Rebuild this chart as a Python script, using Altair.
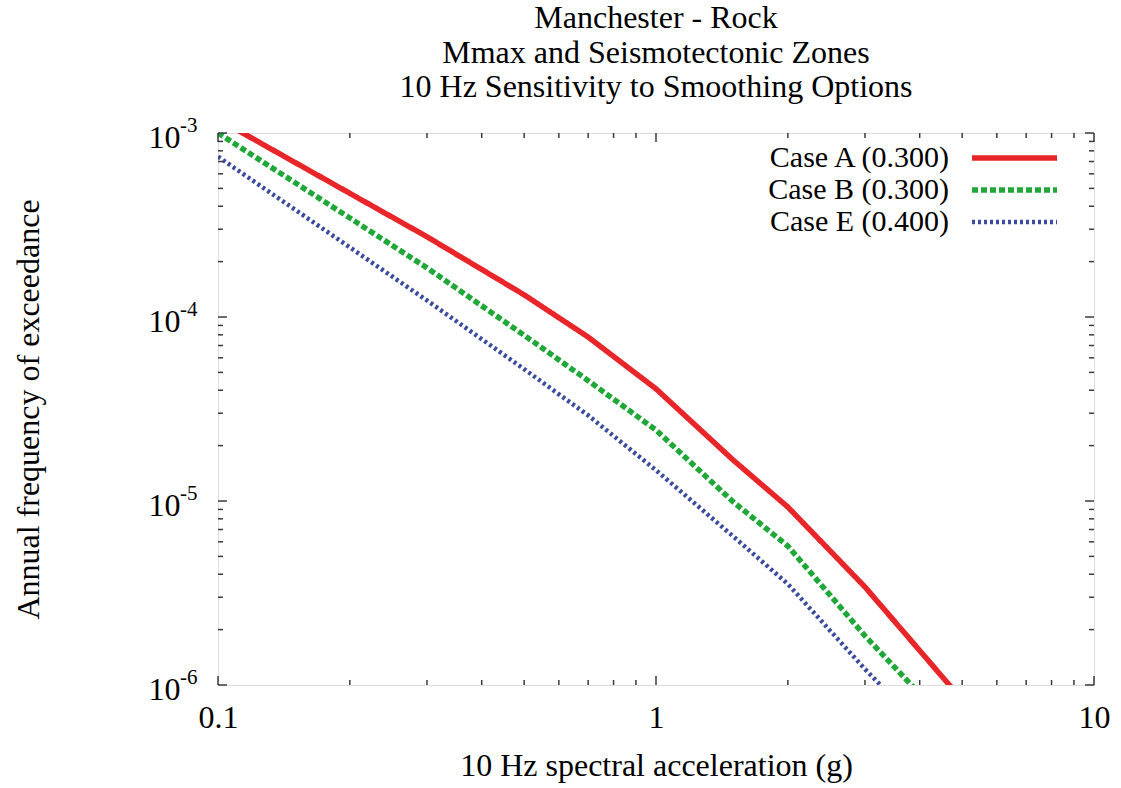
import altair as alt
import pandas as pd

# ---- data ----
accel = [0.1, 0.2, 0.3, 0.5, 0.7, 1.0, 1.5, 2.0, 3.0, 5.0]
case_a = [1.19e-3, 4.7e-4, 2.73e-4, 1.32e-4, 7.78e-5, 4.07e-5, 1.67e-5, 9.27e-6, 3.41e-6, 8.3e-7]
case_b = [1.0e-3, 3.45e-4, 1.85e-4, 7.96e-5, 4.51e-5, 2.43e-5, 9.9e-6, 5.69e-6, 1.85e-6, 5.1e-7]
case_e = [7.44e-4, 2.39e-4, 1.23e-4, 5.21e-5, 2.92e-5, 1.47e-5, 6.43e-6, 3.54e-6, 1.22e-6, 3.5e-7]

cases = ["Case A (0.300)", "Case B (0.300)", "Case E (0.400)"]
series = [case_a, case_b, case_e]
colors = ["#e8262a", "#1fa838", "#3b4b9f"]
dashes = [[1, 0], [6, 3], [3, 3]]
widths = [5.5, 5.5, 4.5]

x_ticks = [0.1, 1, 10]
x_minor = [0.2, 0.3, 0.4, 0.5, 0.6, 0.7, 0.8, 0.9, 2, 3, 4, 5, 6, 7, 8, 9]
y_ticks = [1e-3, 1e-4, 1e-5, 1e-6]
y_exp = ["-3", "-4", "-5", "-6"]
y_minor = [k * 10.0 ** d for d in (-6, -5, -4) for k in range(2, 10)]

title_lines = ["Manchester - Rock", "Mmax and Seismotectonic Zones",
               "10 Hz Sensitivity to Smoothing Options"]
x_title = "10 Hz spectral acceleration (g)"
y_title = "Annual frequency of exceedance"

W, H = 876, 552
FONT = "Liberation Serif"
FS = 32
AX = "#3a3a3a"

xs = alt.Scale(type="log", domain=[0.1, 10])
ys = alt.Scale(type="log", domain=[1e-6, 1e-3])

layers = []
for i, (name, vals) in enumerate(zip(cases, series)):
    df = pd.DataFrame({"x": accel, "y": vals})
    if i == 0:
        xenc = alt.X("x:Q", scale=xs, axis=alt.Axis(
            values=x_ticks, format="~g", ticks=False, domain=False, grid=False,
            labelFont=FONT, labelFontSize=FS, labelColor="black", labelPadding=17,
            title=x_title, titleFont=FONT, titleFontSize=FS, titleFontWeight="normal",
            titleColor="black", titleX=W / 2, titleY=80, titleBaseline="middle",
            labelFlush=False))
        yenc = alt.Y("y:Q", scale=ys, axis=alt.Axis(
            values=y_ticks, labelExpr="'10'", ticks=False, domain=False, grid=False,
            labelFont=FONT, labelFontSize=FS, labelColor="black", labelPadding=38,
            labelBaseline="middle", labelOffset=4, labelFlush=False,
            title=y_title, titleFont=FONT, titleFontSize=FS, titleFontWeight="normal",
            titleColor="black", titleX=-190, titleY=H / 2, titleAngle=-90,
            titleBaseline="middle"))
    else:
        xenc = alt.X("x:Q", scale=xs)
        yenc = alt.Y("y:Q", scale=ys)
    layers.append(
        alt.Chart(df).mark_line(clip=True, color=colors[i], strokeDash=dashes[i],
                                strokeWidth=widths[i], strokeCap="butt")
        .encode(x=xenc, y=yenc)
    )

# exponents of y tick labels
exp_df = pd.DataFrame({"y": y_ticks, "e": y_exp})
layers.append(
    alt.Chart(exp_df).mark_text(font=FONT, fontSize=21, align="left", baseline="middle",
                                dy=-7, color="black")
    .encode(x=alt.value(-38), y=alt.Y("y:Q", scale=ys), text="e:N")
)

# inward ticks (bottom/top and left/right)
def xticks(vals, ln):
    d = pd.DataFrame({"x": vals})
    b = alt.Chart(d).mark_rule(color=AX, strokeWidth=1.5).encode(
        x=alt.X("x:Q", scale=xs), y=alt.value(H), y2=alt.value(H - ln))
    t = alt.Chart(d).mark_rule(color=AX, strokeWidth=1.5).encode(
        x=alt.X("x:Q", scale=xs), y=alt.value(0), y2=alt.value(ln))
    return [b, t]

def yticks(vals, ln):
    d = pd.DataFrame({"y": vals})
    l = alt.Chart(d).mark_rule(color=AX, strokeWidth=1.5).encode(
        y=alt.Y("y:Q", scale=ys), x=alt.value(0), x2=alt.value(ln))
    r = alt.Chart(d).mark_rule(color=AX, strokeWidth=1.5).encode(
        y=alt.Y("y:Q", scale=ys), x=alt.value(W), x2=alt.value(W - ln))
    return [l, r]

layers += xticks(x_ticks, 9) + xticks(x_minor, 5) + yticks(y_ticks, 9) + yticks(y_minor, 5)

# legend (label then sample line)
dummy = pd.DataFrame({"k": [0]})
for i, name in enumerate(cases):
    yy = 25 + 32 * i
    layers.append(alt.Chart(dummy).mark_text(font=FONT, fontSize=30, align="right",
                                             baseline="middle", color="black", text=name)
                  .encode(x=alt.value(731), y=alt.value(yy)))
    layers.append(alt.Chart(dummy).mark_rule(color=colors[i], strokeDash=dashes[i],
                                             strokeWidth=widths[i], strokeCap="butt")
                  .encode(x=alt.value(754), x2=alt.value(839), y=alt.value(yy)))

chart = alt.layer(*layers).properties(
    width=W, height=H,
    title=alt.TitleParams(text=title_lines, font=FONT, fontSize=FS, fontWeight="normal",
                          color="black", anchor="middle", lineHeight=34.5, offset=11),
    autosize=alt.AutoSizeParams(type="none"),
    padding={"left": 218, "top": 133, "right": 27, "bottom": 103},
).configure_view(stroke=AX, strokeWidth=2).configure(background="white")

chart.save("out.html", embed_options={"renderer": "svg", "actions": False})
